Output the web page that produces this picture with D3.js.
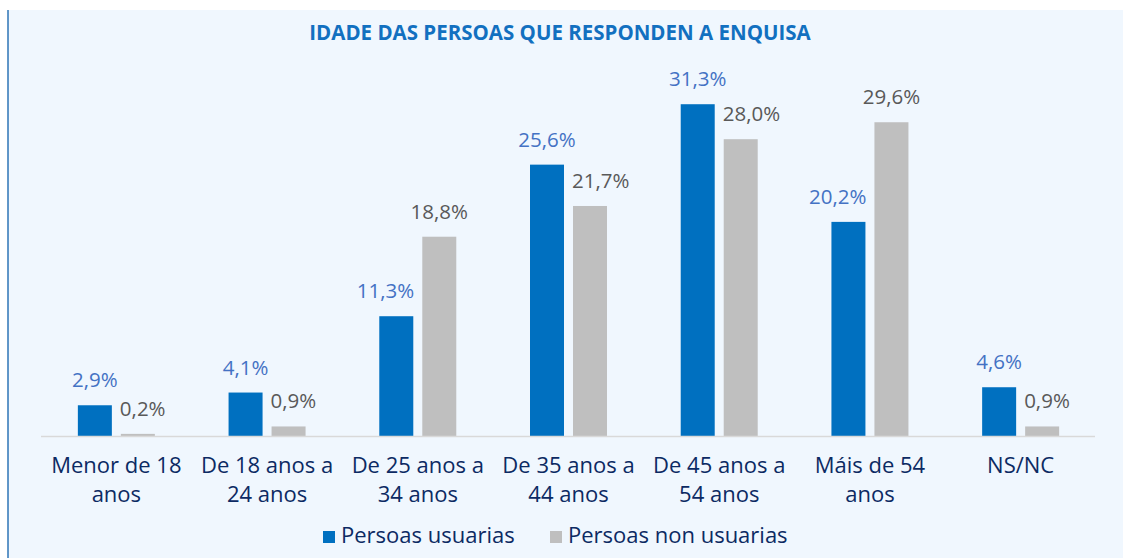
<!DOCTYPE html>
<html>
<head>
<meta charset="utf-8">
<script src="https://cdn.jsdelivr.net/npm/d3@7"></script>
<style>
  body { margin: 0; background: #fff; }
  svg text { font-family: "Open Sans", "Noto Sans", sans-serif; }
</style>
</head>
<body>
<div id="chart"></div>
<script>
// Chart data;
var categories = [["Menor de 18", "anos"], ["De 18 anos a", "24 anos"], ["De 25 anos a", "34 anos"],
  ["De 35 anos a", "44 anos"], ["De 45 anos a", "54 anos"], ["Máis de 54", "anos"], ["NS/NC"]]
var usuarias = [2.9, 4.1, 11.3, 25.6, 31.3, 20.2, 4.6]
var nonUsuarias = [0.2, 0.9, 18.8, 21.7, 28.0, 29.6, 0.9]
var seriesNames = ["Persoas usuarias", "Persoas non usuarias"]

var width = 1123, height = 558
var blue = "#0070C0", gray = "#BFBFBF"
var textColor = "#0C2A63"

var svg = d3.select("#chart").append("svg")
    .attr("width", width)
    .attr("height", height)

// Background panel with the left border;
svg.append("rect").attr("x", 8).attr("y", 10).attr("width", width - 8).attr("height", height - 10)
    .attr("fill", "#F0F7FE")
svg.append("line").attr("x1", 8).attr("x2", 8).attr("y1", 10).attr("y2", height)
    .attr("stroke", "#2E75B6").attr("stroke-width", 1.5)

svg.append("text")
    .attr("x", 560).attr("y", 40)
    .attr("text-anchor", "middle")
    .attr("font-size", 20.5).attr("font-weight", "bold")
    .attr("fill", "#1270C0")
    .text("IDADE DAS PERSOAS QUE RESPONDEN A ENQUISA")

var x = d3.scaleBand().domain(d3.range(categories.length)).range([41, 1096])
var y = d3.scaleLinear().domain([0, 35]).range([436, 65])
var barW = 34, gap = 9
var blueOff = -gap / 2 - barW, grayOff = gap / 2

var groups = svg.selectAll("g.cat")
    .data(categories.map((c, i) => ({ i, label: c, a: usuarias[i], b: nonUsuarias[i] })))
    .join("g").attr("class", "cat")
    .attr("transform", d => `translate(${x(d.i) + x.bandwidth() / 2},0)`)

var series = [
  { key: "a", color: blue, off: blueOff, labelColor: "#4472C4" },
  { key: "b", color: gray, off: grayOff, labelColor: "#595959" }
]

var fmt = v => d3.format(".1f")(v).replace(".", ",") + "%"

series.forEach(s => {
  groups.append("rect")
      .attr("x", s.off)
      .attr("y", d => y(d[s.key]))
      .attr("width", barW)
      .attr("height", d => y(0) - y(d[s.key]))
      .attr("fill", s.color)
  groups.append("text")
      .attr("class", "lbl-" + s.key)
      .attr("y", d => y(d[s.key]) - 18)
      .attr("font-size", 20.5)
      .attr("fill", s.labelColor)
      .text(d => fmt(d[s.key]))
})

// Place labels centred on their bars, nudged sideways when they would hit the neighbour bar;
groups.select(".lbl-a").attr("x", function(d) {
  var w = this.getComputedTextLength()
  var left = blueOff + barW / 2 - w / 2
  if (y(d.a) - 18 > y(d.b)) left = Math.min(left, grayOff - 8 - w)
  return left
})
groups.select(".lbl-b").attr("x", function(d) {
  var w = this.getComputedTextLength()
  var left = grayOff + barW / 2 - w / 2
  if (y(d.b) - 18 > y(d.a)) left = Math.max(left, blueOff + barW + 8)
  return left
})

// Axis baseline;
svg.append("line").attr("x1", 41).attr("x2", 1095).attr("y1", 436.5).attr("y2", 436.5)
    .attr("stroke", "#D9D9D9").attr("stroke-width", 1.5)

groups.append("text")
    .attr("text-anchor", "middle")
    .attr("font-size", 22)
    .attr("fill", textColor)
    .selectAll("tspan")
    .data(d => d.label)
    .join("tspan")
    .attr("x", 0)
    .attr("y", (d, i) => 473 + i * 29)
    .text(d => d)

// Legend;
var legend = svg.append("g").attr("transform", "translate(323,0)")
var lx = [0, 227]
seriesNames.forEach((n, i) => {
  legend.append("rect").attr("x", lx[i]).attr("y", 531).attr("width", 12).attr("height", 12)
      .attr("fill", [blue, gray][i])
  legend.append("text").attr("x", lx[i] + 18).attr("y", 543)
      .attr("font-size", 22).attr("fill", textColor).text(n)
})
</script>
</body>
</html>
